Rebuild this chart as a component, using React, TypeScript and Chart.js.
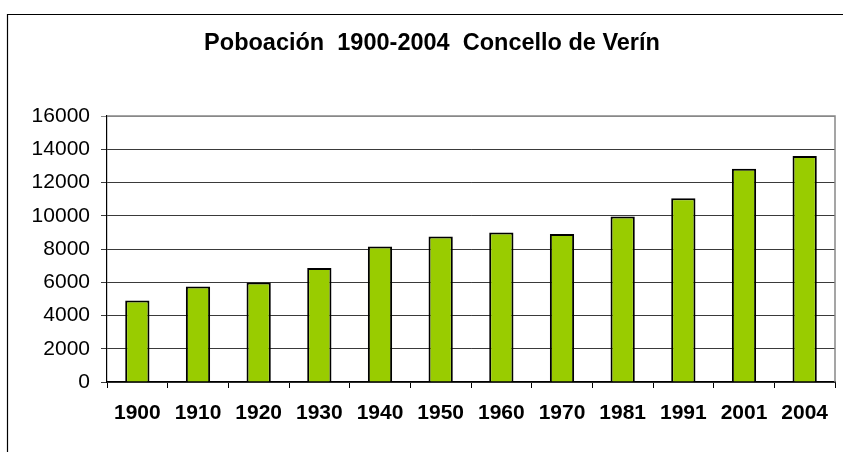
import React, { useEffect, useRef } from "react";
import { Chart, registerables } from "chart.js";

Chart.register(...registerables);

const years = ["1900", "1910", "1920", "1930", "1940", "1950", "1960", "1970", "1981", "1991", "2001", "2004"];
const population = [4900, 5750, 5980, 6850, 8150, 8750, 9000, 8900, 9950, 11050, 12830, 13590];
const titleText = "Poboación  1900-2004  Concello de Verín";
const yMin = 0;
const yMax = 16000;
const yStep = 2000;

const FONT = "'Liberation Sans', Arial, sans-serif";

const framePlugin = {
  id: "frameDecor",
  beforeDraw(chart: any) {
    const ctx = chart.ctx;
    ctx.save();
    ctx.fillStyle = "#ffffff";
    ctx.fillRect(0, 0, chart.width, chart.height);
    ctx.strokeStyle = "#000000";
    ctx.lineWidth = 1.2;
    ctx.beginPath();
    ctx.moveTo(7.5, chart.height);
    ctx.lineTo(7.5, 14.5);
    ctx.lineTo(chart.width, 14.5);
    ctx.stroke();
    ctx.restore();
  },
  afterDraw(chart: any) {
    const { ctx, chartArea } = chart;
    ctx.save();
    ctx.strokeStyle = "#888888";
    ctx.lineWidth = 1.5;
    ctx.beginPath();
    ctx.moveTo(chartArea.left, chartArea.top);
    ctx.lineTo(chartArea.right, chartArea.top);
    ctx.lineTo(chartArea.right, chartArea.bottom);
    ctx.stroke();
    ctx.restore();
  },
};

export default function App() {
  const canvasRef = useRef<HTMLCanvasElement | null>(null);

  useEffect(() => {
    if (!canvasRef.current) return;
    const chart = new Chart(canvasRef.current, {
      type: "bar",
      data: {
        labels: years,
        datasets: [
          {
            label: "Poboación",
            data: population,
            backgroundColor: "#99CC00",
            borderColor: "#000000",
            borderWidth: 2,
            barPercentage: 0.4,
            categoryPercentage: 1,
          },
        ],
      },
      options: {
        responsive: false,
        animation: false,
        layout: { padding: { top: 0, left: 29, right: 8, bottom: 0 } },
        plugins: {
          legend: { display: false },
          tooltip: { enabled: false },
          title: {
            display: true,
            text: titleText,
            color: "#000000",
            font: { family: FONT, size: 23.5, weight: "bold", lineHeight: 1.2 },
            padding: { top: 29.2, bottom: 58.6 },
          },
        },
        scales: {
          x: {
            offset: true,
            grid: {
              display: true,
              drawOnChartArea: false,
              drawTicks: true,
              tickLength: 6,
              color: "#000000",
              offset: true,
            },
            border: { display: true, color: "#000000", width: 1.2 },
            ticks: {
              autoSkip: false,
              maxRotation: 0,
              minRotation: 0,
              padding: 13,
              color: "#000000",
              font: { family: FONT, size: 21, weight: "bold" },
            },
            afterFit(scale: any) {
              scale.height = 70;
            },
          },
          y: {
            min: yMin,
            max: yMax,
            grid: {
              display: true,
              drawTicks: true,
              tickLength: 6,
              color: (c: any) => (c.tick && c.tick.value === yMax ? "#888888" : "#3a3a3a"),
              lineWidth: 1,
            },
            border: { display: true, color: "#000000", width: 1.2 },
            ticks: {
              stepSize: yStep,
              padding: 11,
              color: "#000000",
              font: { family: FONT, size: 21 },
              callback: (value: any) => String(value),
            },
            afterFit(scale: any) {
              scale.width = 78;
            },
          },
        },
      },
      plugins: [framePlugin],
    });
    return () => chart.destroy();
  }, []);

  return (
    <div style={{ position: "absolute", left: 0, top: 0, width: 843, height: 452, background: "#fff" }}>
      <canvas ref={canvasRef} width={843} height={452} style={{ display: "block" }} />
    </div>
  );
}
